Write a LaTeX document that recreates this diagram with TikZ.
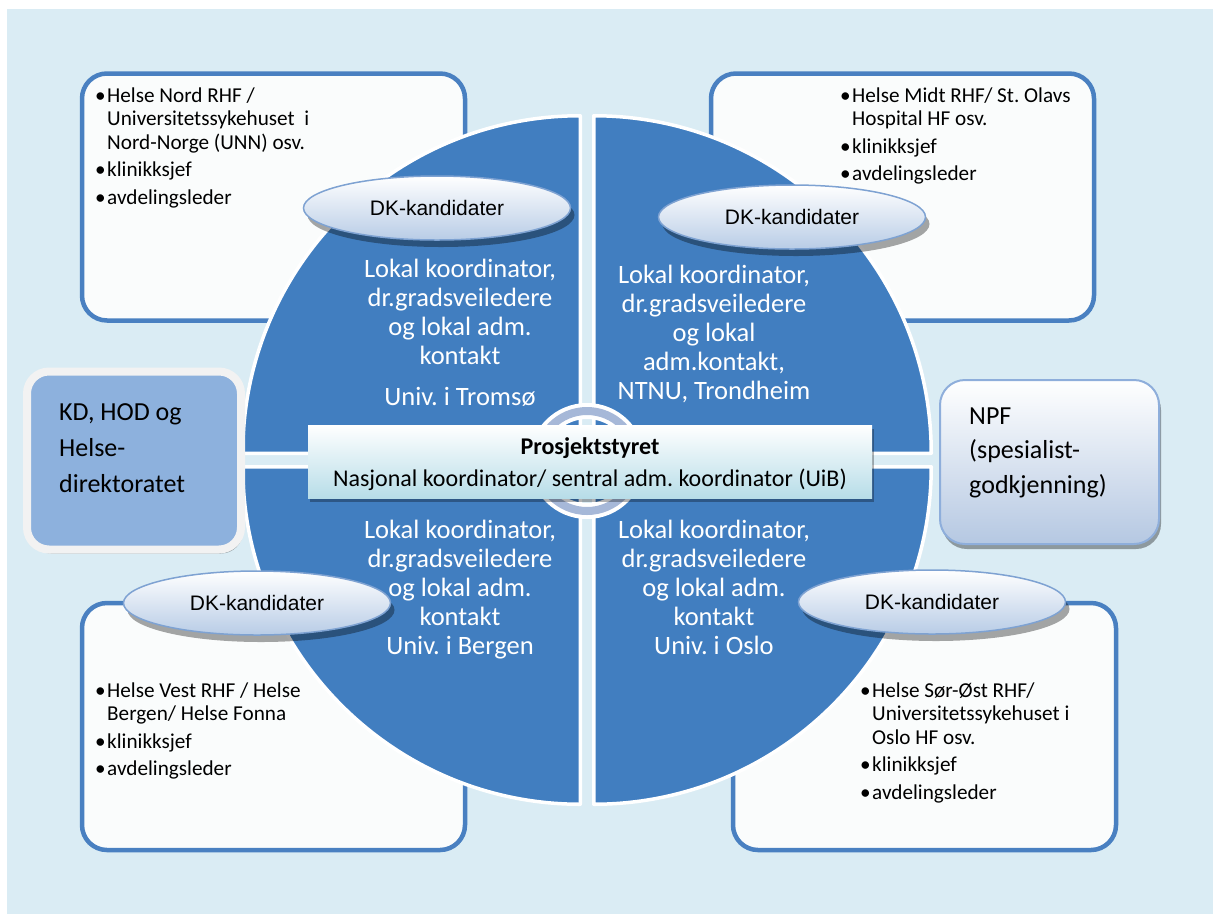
\documentclass[tikz,border=0pt]{standalone}
\usepackage{fontspec}
\setmainfont{Carlito}
\newfontfamily\arialfont{Liberation Sans}
\usetikzlibrary{shapes.geometric,shadows}
\definecolor{bgblue}{RGB}{218,236,244}
\definecolor{quadblue}{RGB}{65,126,192}
\definecolor{boxblue}{RGB}{73,128,193}
\definecolor{boxwhite}{RGB}{250,252,252}
\definecolor{ellborder}{RGB}{126,162,210}
\definecolor{ellbottom}{RGB}{184,204,230}
\definecolor{ctrcyan}{RGB}{183,221,232}
\definecolor{kdfill}{RGB}{141,177,221}
\definecolor{kdframe}{RGB}{242,242,242}
\definecolor{npfborder}{RGB}{142,174,219}
\definecolor{npfbottom}{RGB}{181,200,226}
\definecolor{ringblue}{RGB}{166,184,216}
\newcommand{\bul}{\makebox[12pt][l]{\textbullet}}
\frenchspacing
\begin{document}
\frenchspacing
\begin{tikzpicture}[x=1pt,y=-1pt,
  cornerbox/.style={rectangle, rounded corners=25pt, draw=boxblue, line width=4.5pt, fill=boxwhite, inner sep=0pt, minimum width=383pt, minimum height=247pt},
  boxtext/.style={anchor=base west, inner sep=0pt, font=\fontsize{21.2}{23.5}\selectfont},
  quad/.style={fill=quadblue, draw=white, line width=3.5pt, line join=round},
  quadtext/.style={anchor=base, inner sep=0pt, text=white, font=\fontsize{26.5}{29}\selectfont},
  dk/.style={ellipse, minimum width=267pt, minimum height=64pt, inner sep=0pt, draw=ellborder, line width=1.5pt, top color=white, bottom color=ellbottom, drop shadow={shadow xshift=4pt, shadow yshift=-7pt, opacity=0.35, fill=black}, font=\arialfont\fontsize{21}{21}\selectfont},
  sidetext/.style={anchor=base west, inner sep=0pt, font=\fontsize{26}{36}\selectfont}
]
\useasboundingbox (0,0) rectangle (1213,914);
\fill[white] (0,0) rectangle (1213,914);
\fill[bgblue] (7,9) rectangle (1213,914);

% corner boxes
\node[cornerbox] (tlbox) at (273.5,197) {};
\node[cornerbox] (trbox) at (902.5,197) {};
\node[cornerbox] (blbox) at (273.5,726.5) {};
\node[cornerbox] (brbox) at (924.5,726.5) {};

\node[boxtext] (tltext) at (95,102) {\begin{tabular}[t]{@{}l@{}l@{}}\bul & Helse Nord RHF /\\ & Universitetssykehuset\ \ i\\ & Nord-Norge (UNN) osv.\\[4pt] \bul & klinikksjef\\[4pt] \bul & avdelingsleder\end{tabular}};
\node[boxtext] (trtext) at (840,102) {\begin{tabular}[t]{@{}l@{}l@{}}\bul & Helse Midt RHF/ St. Olavs\\ & Hospital HF osv.\\[4pt] \bul & klinikksjef\\[4pt] \bul & avdelingsleder\end{tabular}};
\node[boxtext] (bltext) at (95,697) {\begin{tabular}[t]{@{}l@{}l@{}}\bul & Helse Vest RHF / Helse\\ & Bergen/ Helse Fonna\\[4pt] \bul & klinikksjef\\[4pt] \bul & avdelingsleder\end{tabular}};
\node[boxtext] (brtext) at (860,697) {\begin{tabular}[t]{@{}l@{}l@{}}\bul & Helse Sør-Øst RHF/\\ & Universitetssykehuset i\\ & Oslo HF osv.\\[4pt] \bul & klinikksjef\\[4pt] \bul & avdelingsleder\end{tabular}};

% quadrants
\path[quad] (580.25,453.25) -- ++(-337.5pt,0pt) arc[start angle=180,end angle=90,radius=337.5pt] -- cycle;
\path[quad] (593.75,453.25) -- ++(0pt,337.5pt) arc[start angle=90,end angle=0,radius=337.5pt] -- cycle;
\path[quad] (580.25,466.75) -- ++(-337.5pt,0pt) arc[start angle=180,end angle=270,radius=337.5pt] -- cycle;
\path[quad] (593.75,466.75) -- ++(337.5pt,0pt) arc[start angle=0,end angle=-90,radius=337.5pt] -- cycle;

\node[quadtext] (tlq) at (460,277) {\begin{tabular}[t]{@{}c@{}}Lokal koordinator,\\dr.gradsveiledere\\og lokal adm.\\kontakt\\[12pt]Univ. i Tromsø\end{tabular}};
\node[quadtext] (trq) at (714,283) {\begin{tabular}[t]{@{}c@{}}Lokal koordinator,\\dr.gradsveiledere\\og lokal\\adm.kontakt,\\NTNU, Trondheim\end{tabular}};
\node[quadtext] (blq) at (460,538) {\begin{tabular}[t]{@{}c@{}}Lokal koordinator,\\dr.gradsveiledere\\og lokal adm.\\kontakt\\Univ. i Bergen\end{tabular}};
\node[quadtext] (brq) at (714,538) {\begin{tabular}[t]{@{}c@{}}Lokal koordinator,\\dr.gradsveiledere\\og lokal adm.\\kontakt\\Univ. i Oslo\end{tabular}};

% ellipses
\node[dk] (tlell) at (437,208) {DK-kandidater};
\node[dk] (trell) at (792,217) {DK-kandidater};
\node[dk] (blell) at (257,603) {DK-kandidater};
\node[dk] (brell) at (932,602) {DK-kandidater};

% side boxes
\node[rectangle, rounded corners=22pt, draw=kdframe, line width=8pt, fill=kdfill, minimum width=214pt, minimum height=178pt, inner sep=0pt, drop shadow={shadow xshift=2pt, shadow yshift=-4pt, opacity=0.35, fill=black}] (kd) at (134,460.5) {};
\node[sidetext] (kdtext) at (59,420) {\begin{tabular}[t]{@{}l@{}}KD, HOD og\\[0.5pt]Helse-\\direktoratet\end{tabular}};
\node[rectangle, rounded corners=25pt, draw=npfborder, line width=2pt, top color=white, bottom color=npfbottom, minimum width=219pt, minimum height=164pt, inner sep=0pt, drop shadow={shadow xshift=2pt, shadow yshift=-5pt, opacity=0.35, fill=black}] (npf) at (1049.5,462) {};
\node[sidetext, font=\fontsize{26}{34.5}\selectfont] (npftext) at (969,424) {\begin{tabular}[t]{@{}l@{}}NPF\\(spesialist-\\godkjenning)\end{tabular}};

% central ring
\node[circle, minimum size=100pt, inner sep=0pt, draw=white, line width=16pt] (ring) at (587,461) {};
\node[circle, minimum size=100pt, inner sep=0pt, draw=ringblue, line width=8pt] (ringin) at (587,461) {};

% central rectangle
\node[rectangle, minimum width=564pt, minimum height=73pt, inner sep=0pt, top color=white, bottom color=ctrcyan, drop shadow={shadow xshift=2pt, shadow yshift=-4pt, opacity=0.3, fill=black}] (ctr) at (590,461.5) {};
\node[anchor=base, inner sep=0pt, font=\fontsize{24}{32}\selectfont] (ctrtext) at (590,454) {\begin{tabular}[t]{@{}c@{}}\textbf{Prosjektstyret}\\Nasjonal koordinator/ sentral adm. koordinator (UiB)\end{tabular}};
\end{tikzpicture}
\end{document}
